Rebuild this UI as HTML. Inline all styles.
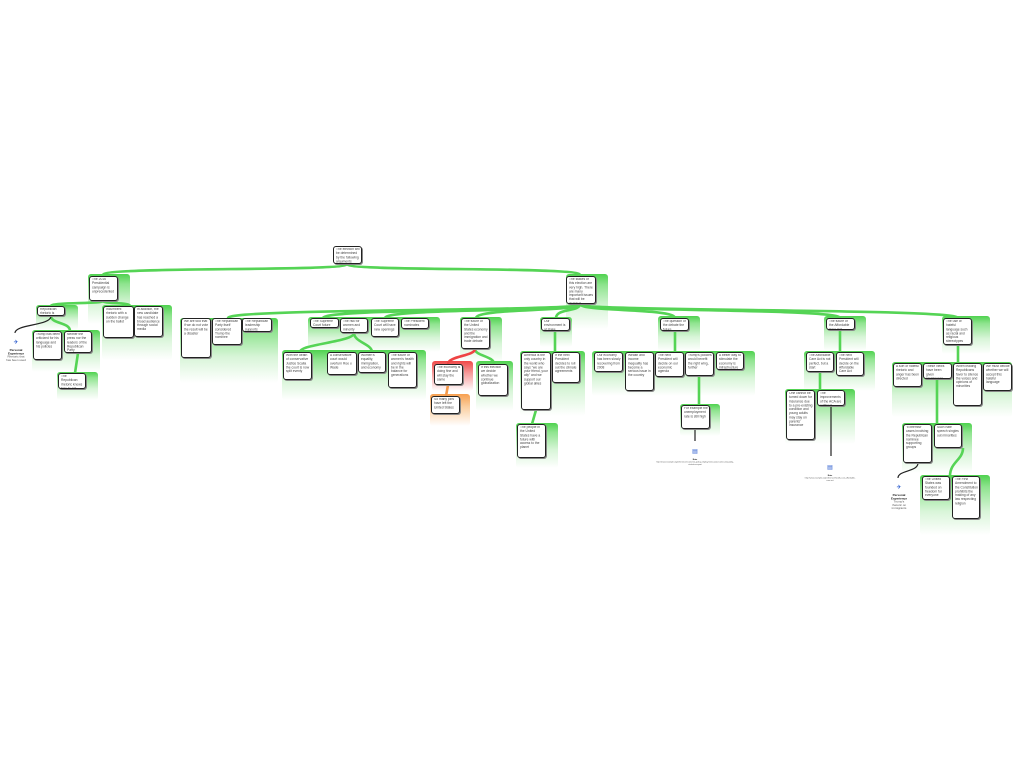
<!DOCTYPE html>
<html><head><meta charset="utf-8"><style>
html,body{margin:0;padding:0;background:#fff;width:1024px;height:768px;overflow:hidden;position:relative;font-family:"Liberation Sans",sans-serif}
.b{position:absolute;box-sizing:border-box;background:#fff;border:1.4px solid #222;border-radius:3px;box-shadow:1px 1px 0 #888;padding:1px 1.5px;overflow:hidden;color:#444;z-index:3}
.b i{display:block;font-style:normal;font-size:6px;line-height:7.3px;transform:scale(.55);transform-origin:0 0;width:182%}
.p{position:absolute;border-radius:3px;background:linear-gradient(to bottom,#4fd24f 0%,#8fe48f 20%,#d8f5d8 60%,rgba(255,255,255,0) 100%);z-index:1}
.r{background:linear-gradient(to bottom,#f04848 0%,#f59a9a 40%,rgba(255,255,255,0) 100%)}
.o{background:linear-gradient(to bottom,#f7a050 0%,#fbcfa0 40%,rgba(255,255,255,0) 100%)}
svg{position:absolute;left:0;top:0;z-index:2}
.ic{position:absolute;z-index:3;text-align:center;color:#555}
.ic i{display:block;font-style:normal;font-size:6px;line-height:6.5px;transform:scale(.5);transform-origin:50% 0}
.ic b{color:#111}
</style></head><body>
<svg width="1024" height="768">
<g fill="none" stroke="#55d455" stroke-width="2.6">
<path d="M347 264 C347 272,103 266,103 275"/>
<path d="M347 264 C347 272,580 266,580 275"/>
<path d="M103 301 C103 304,51 302,51 306"/>
<path d="M103 301 C103 304,130 302,130 306"/>
<path d="M51 316 C51 324,70 322,70 331"/>
<path d="M78 353 L75 373"/>
<path d="M580 304 C580 312,228 308,228 318"/>
<path d="M580 304 C580 312,323 308,323 318"/>
<path d="M580 304 C580 312,385 308,385 318"/>
<path d="M580 304 C580 312,476 308,476 318"/>
<path d="M580 304 C580 312,556 308,556 318"/>
<path d="M580 304 C580 312,675 308,675 318"/>
<path d="M580 304 C580 312,840 308,840 318"/>
<path d="M580 304 C580 312,958 308,958 318"/>
<path d="M354 333 C354 342,300 344,300 352"/>
<path d="M354 333 C354 342,372 344,372 352"/>
<path d="M475 349 C475 356,494 356,494 364"/>
<path d="M555 331 L555 352"/>
<path d="M536 410 L532 424"/>
<path d="M675 331 L675 352"/>
<path d="M699 376 L699 405"/>
<path d="M840 330 L840 352"/>
<path d="M820 372 L820 390"/>
<path d="M958 345 L958 363"/>
<path d="M937 379 L937 424"/>
<path d="M963 448 C963 460,950 462,950 476"/>
</g>
<path d="M475 349 C475 356,448 356,448 364" fill="none" stroke="#ee4444" stroke-width="2.6"/>
<path d="M448 385 L446 396" fill="none" stroke="#f59a4a" stroke-width="2.6"/>
<g fill="none" stroke="#222" stroke-width="1.2">
<path d="M51 316 C51 326,15 324,15 333"/>
<path d="M695 429 L695 441"/>
<path d="M831 406 L831 456"/>
<path d="M918 463 C918 472,898 470,898 478"/>
</g>
</svg>

<div class="b" style="left:333px;top:246px;width:29px;height:18px"><i>The election will be determined by the following arguments</i></div>

<div class="p" style="left:88px;top:274px;width:42px;height:50px"></div>
<div class="b" style="left:89px;top:276px;width:29px;height:25px"><i>The 2016 Presidential campaign is unprecedented</i></div>
<div class="p" style="left:566px;top:274px;width:42px;height:55px"></div>
<div class="b" style="left:566px;top:276px;width:30px;height:28px"><i>The stakes of this election are very high. There are many important issues that will be decided</i></div>

<div class="p" style="left:36px;top:305px;width:42px;height:25px"></div>
<div class="b" style="left:37px;top:306px;width:28px;height:10px"><i>Republican rhetoric is extreme</i></div>
<div class="p" style="left:102px;top:305px;width:70px;height:55px"></div>
<div class="b" style="left:103px;top:306px;width:31px;height:32px"><i>Incumbent rhetoric with a sudden change on the ballot</i></div>
<div class="b" style="left:134px;top:306px;width:29px;height:31px"><i>In addition, the new candidate has reached a broad audience through social media</i></div>

<div class="p" style="left:32px;top:330px;width:68px;height:42px"></div>
<div class="b" style="left:33px;top:331px;width:29px;height:29px"><i>Trump has been criticized for his language and his policies</i></div>
<div class="b" style="left:64px;top:331px;width:28px;height:22px"><i>Neither the press nor the leaders of the Republican Party</i></div>
<div class="p" style="left:57px;top:372px;width:41px;height:28px"></div>
<div class="b" style="left:58px;top:373px;width:28px;height:16px"><i>The Republican rhetoric knows how to get attention</i></div>
<div class="ic" style="left:-4px;top:331px;width:40px"><span style="color:#2255cc;font-size:6px">✈</span><i><b>Personal Experience</b><br>Rhetoric that has been used</i></div>

<div class="p" style="left:180px;top:318px;width:98px;height:65px"></div>
<div class="b" style="left:181px;top:318px;width:30px;height:40px"><i>We are told that if we do not vote the result will be a disaster</i></div>
<div class="b" style="left:212px;top:318px;width:30px;height:27px"><i>The Republican Party itself considered Trump the nominee</i></div>
<div class="b" style="left:242px;top:318px;width:30px;height:14px"><i>The Republican leadership supports</i></div>

<div class="p" style="left:308px;top:317px;width:132px;height:35px"></div>
<div class="b" style="left:310px;top:318px;width:29px;height:10px"><i>The Supreme Court future</i></div>
<div class="b" style="left:340px;top:318px;width:28px;height:15px"><i>The risk for women and minority</i></div>
<div class="b" style="left:371px;top:318px;width:28px;height:19px"><i>The Supreme Court will have new openings</i></div>
<div class="b" style="left:401px;top:318px;width:28px;height:11px"><i>The President nominates</i></div>

<div class="p" style="left:282px;top:350px;width:144px;height:50px"></div>
<div class="b" style="left:283px;top:352px;width:29px;height:28px"><i>With the death of conservative Justice Scalia the court is now split evenly</i></div>
<div class="b" style="left:327px;top:352px;width:30px;height:23px"><i>A conservative court would overturn Roe v. Wade</i></div>
<div class="b" style="left:358px;top:352px;width:28px;height:21px"><i>Women's equality, immigration, and economy</i></div>
<div class="b" style="left:388px;top:352px;width:29px;height:36px"><i>The future of women's health and rights will be in the balance for generations</i></div>

<div class="p" style="left:460px;top:317px;width:42px;height:45px"></div>
<div class="b" style="left:461px;top:318px;width:29px;height:31px"><i>The future of the United States economy and the immigration and trade debate</i></div>
<div class="p r" style="left:432px;top:361px;width:41px;height:30px"></div>
<div class="b" style="left:434px;top:364px;width:29px;height:21px"><i>The economy is doing fine and will stay the same</i></div>
<div class="p o" style="left:430px;top:394px;width:40px;height:32px"></div>
<div class="b" style="left:431px;top:396px;width:29px;height:18px"><i>So many jobs have left the United States</i></div>
<div class="p" style="left:476px;top:361px;width:37px;height:50px"></div>
<div class="b" style="left:478px;top:364px;width:30px;height:32px"><i>If this election we decide whether we continue globalization</i></div>

<div class="p" style="left:540px;top:317px;width:32px;height:30px"></div>
<div class="b" style="left:541px;top:318px;width:29px;height:13px"><i>Our environment is at stake</i></div>
<div class="p" style="left:520px;top:351px;width:65px;height:65px"></div>
<div class="b" style="left:521px;top:352px;width:30px;height:58px"><i>America is the only country in the world who says "we are your friend, your ally" and we support our global allies</i></div>
<div class="b" style="left:552px;top:352px;width:28px;height:31px"><i>If the next President decides to roll out the climate agreements</i></div>
<div class="p" style="left:516px;top:423px;width:42px;height:45px"></div>
<div class="b" style="left:517px;top:424px;width:29px;height:34px"><i>The people in the United States have a future with access to the planet</i></div>

<div class="p" style="left:658px;top:316px;width:42px;height:35px"></div>
<div class="b" style="left:660px;top:318px;width:29px;height:13px"><i>The question of the debate the future</i></div>
<div class="p" style="left:592px;top:351px;width:163px;height:45px"></div>
<div class="b" style="left:594px;top:352px;width:29px;height:20px"><i>Our economy has been slowly recovering from 2008</i></div>
<div class="b" style="left:625px;top:352px;width:29px;height:39px"><i>Wealth and income inequality has become a serious issue in the country</i></div>
<div class="b" style="left:655px;top:352px;width:29px;height:25px"><i>The next President will decide on our economic agenda</i></div>
<div class="b" style="left:685px;top:352px;width:29px;height:24px"><i>Trump's policies would benefit the right wing, further</i></div>
<div class="b" style="left:716px;top:352px;width:28px;height:18px"><i>A better way to stimulate the economy is infrastructure</i></div>
<div class="p" style="left:680px;top:404px;width:40px;height:32px"></div>
<div class="b" style="left:681px;top:405px;width:29px;height:24px"><i>For example the unemployment rate is still high</i></div>
<div class="ic" style="left:610px;top:440px;width:170px"><span style="color:#2255cc;font-size:6px">▤</span><i style="font-size:4px;line-height:5px"><b>Note</b><br>http://www.example.org/reference/economic-policy-employment-and-income-inequality-statistics-report</i></div>

<div class="p" style="left:824px;top:316px;width:42px;height:35px"></div>
<div class="b" style="left:826px;top:318px;width:29px;height:12px"><i>The future of the Affordable Care Act</i></div>
<div class="p" style="left:804px;top:351px;width:71px;height:40px"></div>
<div class="b" style="left:806px;top:352px;width:28px;height:20px"><i>The Affordable Care Act is not perfect, but a start</i></div>
<div class="b" style="left:836px;top:352px;width:28px;height:24px"><i>The next President will decide on the Affordable Care Act</i></div>
<div class="p" style="left:785px;top:389px;width:70px;height:55px"></div>
<div class="b" style="left:786px;top:390px;width:29px;height:50px"><i>One cannot be turned down for insurance due to a pre-existing condition and young adults may stay on parents' insurance</i></div>
<div class="b" style="left:817px;top:390px;width:28px;height:16px"><i>The improvements of the ACA are outlined</i></div>
<div class="ic" style="left:775px;top:456px;width:110px"><span style="color:#2255cc;font-size:6px">▤</span><i style="font-size:4px;line-height:5px"><b>Note</b><br>http://www.example.org/reference/health-care-affordable-care-act</i></div>

<div class="p" style="left:942px;top:316px;width:48px;height:38px"></div>
<div class="b" style="left:943px;top:318px;width:29px;height:27px"><i>The use of hateful language such as racial and religious stereotypes</i></div>
<div class="p" style="left:892px;top:362px;width:120px;height:55px"></div>
<div class="b" style="left:893px;top:363px;width:29px;height:24px"><i>A sort of hateful rhetoric and anger has been directed</i></div>
<div class="b" style="left:923px;top:363px;width:29px;height:16px"><i>These views have been given prominence</i></div>
<div class="b" style="left:953px;top:363px;width:29px;height:43px"><i>When leading Republicans favor to silence the voices and opinions of minorities</i></div>
<div class="b" style="left:983px;top:363px;width:29px;height:28px"><i>We must decide whether we will accept this hateful language</i></div>
<div class="p" style="left:902px;top:423px;width:70px;height:50px"></div>
<div class="b" style="left:903px;top:424px;width:29px;height:39px"><i>"Extremist" cases involving the Republican nominee supporting groups</i></div>
<div class="b" style="left:934px;top:424px;width:28px;height:24px"><i>Such hate speech singles out minorities</i></div>
<div class="p" style="left:920px;top:475px;width:70px;height:60px"></div>
<div class="b" style="left:922px;top:476px;width:28px;height:24px"><i>The United States was founded on freedom for everyone</i></div>
<div class="b" style="left:952px;top:476px;width:28px;height:43px"><i>The First Amendment to the Constitution prohibits the making of any law respecting religion</i></div>
<div class="ic" style="left:878px;top:476px;width:42px"><span style="color:#2255cc;font-size:6px">✈</span><i><b>Personal Experience</b><br>Trump's rhetoric on immigrants</i></div>
</body></html>
